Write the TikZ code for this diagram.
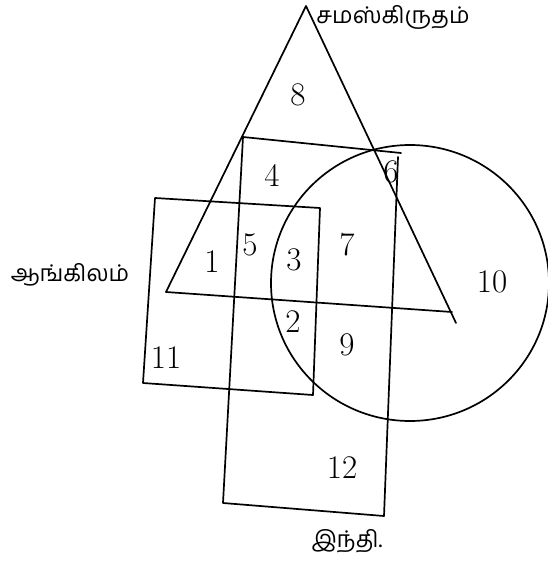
\documentclass[tikz,border=0pt]{standalone}
\usepackage{fontspec}
\newfontfamily\tamilfont[Script=Tamil]{Hind Madurai}
\begin{document}
\begin{tikzpicture}[x=1pt,y=-1pt,
  edge/.style={line width=1.7pt,line join=round,line cap=round},
  num/.style={font=\fontsize{33}{33}\selectfont},
  lab/.style={font=\tamilfont\fontsize{23}{23}\selectfont}]
\useasboundingbox (0,0) rectangle (548,562);
% triangle (Sanskrit)
\coordinate (tA) at (306,6);
\coordinate (tL) at (166,292);
\coordinate (tR) at (452,312);
\coordinate (tRe) at (456,323);
\draw[edge] (tL) -- (tA) -- (tRe);
\draw[edge] (tL) -- (tR);
% Hindi rectangle
\coordinate (h1) at (243,137);
\coordinate (h2) at (401,153);
\coordinate (h3) at (384,516);
\coordinate (h4) at (223,503);
\draw[edge] (h1) -- (h2) (h2) ++(-3,4) -- (h3) -- (h4) -- (h1);
% English rectangle
\coordinate (e1) at (155,198);
\coordinate (e2) at (320,208);
\coordinate (e3) at (313,395);
\coordinate (e4) at (143,383);
\draw[edge] (e1) -- (e2) -- (e3) -- (e4) -- cycle;
% circle
\coordinate (c) at (410,283);
\draw[edge] (c) circle[x radius=139,y radius=138];
% region numbers
\node[num] (n8) at (298,95) {8};
\node[num] (n4) at (272,175) {4};
\node[num] (n6) at (391,172) {6};
\node[num] (n5) at (250,245) {5};
\node[num] (n1) at (212,262) {1};
\node[num] (n3) at (294,260) {3};
\node[num] (n7) at (347,245) {7};
\node[num] (n10) at (492,282) {10};
\node[num] (n2) at (293,322) {2};
\node[num] (n9) at (347,345) {9};
\node[num] (n11) at (166,358) {11};
\node[num] (n12) at (342,468) {12};
% set labels
\node[lab] (ls) at (393,17) {சமஸ்கிருதம்};
\node[lab] (le) at (70,275) {ஆங்கிலம்};
\node[lab] (lh) at (347,541) {இந்தி.};
\end{tikzpicture}
\end{document}
